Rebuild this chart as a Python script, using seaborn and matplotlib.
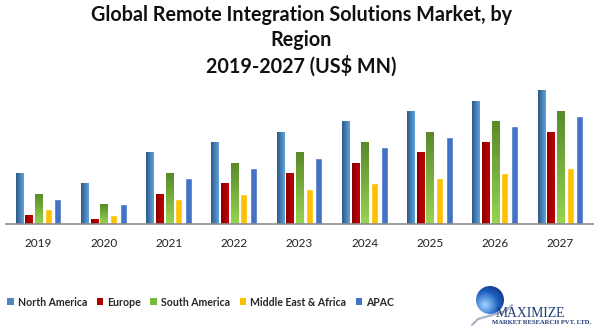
import numpy as np
import pandas as pd
import matplotlib
matplotlib.use("Agg")
import matplotlib.pyplot as plt
from matplotlib.colors import LinearSegmentedColormap
from matplotlib.patches import Patch, Circle
import seaborn as sns

years = ["2019", "2020", "2021", "2022", "2023", "2024", "2025", "2026", "2027"]
regions = ["North America", "Europe", "South America", "Middle East & Africa", "APAC"]
north_america = [51, 41, 72, 82, 92, 103, 113, 123, 134]
europe = [9, 5, 30, 41, 51, 61, 72, 82, 92]
south_america = [30, 20, 51, 61, 72, 82, 92, 103, 113]
middle_east_africa = [15, 9, 25, 30, 35, 41, 46, 51, 56]
apac = [25, 20, 46, 56, 66, 77, 87, 98, 108]

series = [north_america, europe, south_america, middle_east_africa, apac]
df = pd.DataFrame({
    "Year": np.tile(years, len(regions)),
    "Region": np.repeat(regions, len(years)),
    "Value": np.concatenate(series),
})

palette = {
    "North America": "#4A86C0",
    "Europe": "#B00000",
    "South America": "#78B83A",
    "Middle East & Africa": "#FFC000",
    "APAC": "#4472C4",
}
# gradient fills: (start, end, direction)
gradients = {
    "North America": ("#2C5A85", "#5FA2DC", "h"),
    "Europe": ("#8A0000", "#C40000", "h"),
    "South America": ("#5A8A2A", "#96D452", "v"),
}

sns.set_theme(style="white")
plt.rcParams["font.family"] = ["Lato", "DejaVu Sans"]

fig = plt.figure(figsize=(6.03, 3.35), dpi=100)
W, H = 603, 335
ax = fig.add_axes([6 / W, 111 / H, 587 / W, 139 / H])

sns.barplot(data=df, x="Year", y="Value", hue="Region", order=years,
            hue_order=regions, palette=palette, width=0.74, gap=0.27,
            saturation=1, legend=False, ax=ax)

# paint gradients over the bars of the shaded series
n = len(years)
for i, reg in enumerate(regions):
    if reg not in gradients:
        continue
    c0, c1, d = gradients[reg]
    cmap = LinearSegmentedColormap.from_list(reg, [c0, c1])
    for p in ax.patches[i * n:(i + 1) * n]:
        x0, y0 = p.get_x(), p.get_y()
        w, h = p.get_width(), p.get_height()
        if d == "h":
            img = np.linspace(0, 1, 32).reshape(1, -1)
        else:
            img = np.linspace(0, 1, 32).reshape(-1, 1)
        ax.imshow(img, cmap=cmap, extent=[x0, x0 + w, y0, y0 + h],
                  aspect="auto", origin="upper", zorder=p.get_zorder() + 0.1,
                  interpolation="bilinear")

ax.set_xlim(-0.5, len(years) - 0.5)
ax.set_ylim(0, 139)
ax.set_xlabel("")
ax.set_ylabel("")
ax.set_yticks([])
for s in ["top", "right", "left"]:
    ax.spines[s].set_visible(False)
ax.spines["bottom"].set_color("#8C8C8C")
ax.spines["bottom"].set_linewidth(1.2)
ax.tick_params(axis="x", length=0, pad=10, labelsize=8.5, labelcolor="#222222")

fig.text(0.5, 1 - 5 / H,
         "Global Remote Integration Solutions Market, by\nRegion\n2019-2027 (US$ MN)",
         ha="center", va="top", fontsize=14.2, fontweight="bold",
         color="#111111", linespacing=1.3)

handles = [Patch(facecolor=palette[r], edgecolor="none") for r in regions]
fig.legend(handles, regions, loc="center left", bbox_to_anchor=(3 / W, 1 - 302 / H),
           ncol=5, frameon=False, handlelength=0.6, handleheight=0.6,
           handletextpad=0.4, columnspacing=0.9, borderaxespad=0,
           prop={"weight": "bold", "size": 7.6})

# company mark
lax = fig.add_axes([470 / W, 0, 133 / W, 55 / H])
lax.set_xlim(0, 133)
lax.set_ylim(0, 55)
lax.axis("off")
yy, xx = np.mgrid[-1:1:64j, -1:1:64j]
r = np.sqrt((xx + 0.35) ** 2 + (yy - 0.35) ** 2)
globe_cmap = LinearSegmentedColormap.from_list("globe", ["#9FD3FF", "#1E5FC0", "#0B1F5C"])
im = lax.imshow(r, cmap=globe_cmap, extent=[6, 34, 21, 49], interpolation="bilinear")
im.set_clip_path(Circle((20, 35), 14, transform=lax.transData))
lax.plot([2, 8, 22, 36, 42], [10, 16, 20, 24, 30], color="#8796B0", lw=1.6, alpha=0.7)
lax.text(26, 18, "MAXIMIZE", family="Liberation Serif", fontsize=9.8,
         color="#1F3A73", ha="left", va="baseline")
lax.text(22, 11, "MARKET RESEARCH PVT. LTD.", family="Liberation Serif",
         fontsize=4.8, fontweight="bold", color="#1F3A73", ha="left", va="baseline")

fig.savefig("out.png", dpi=100)
